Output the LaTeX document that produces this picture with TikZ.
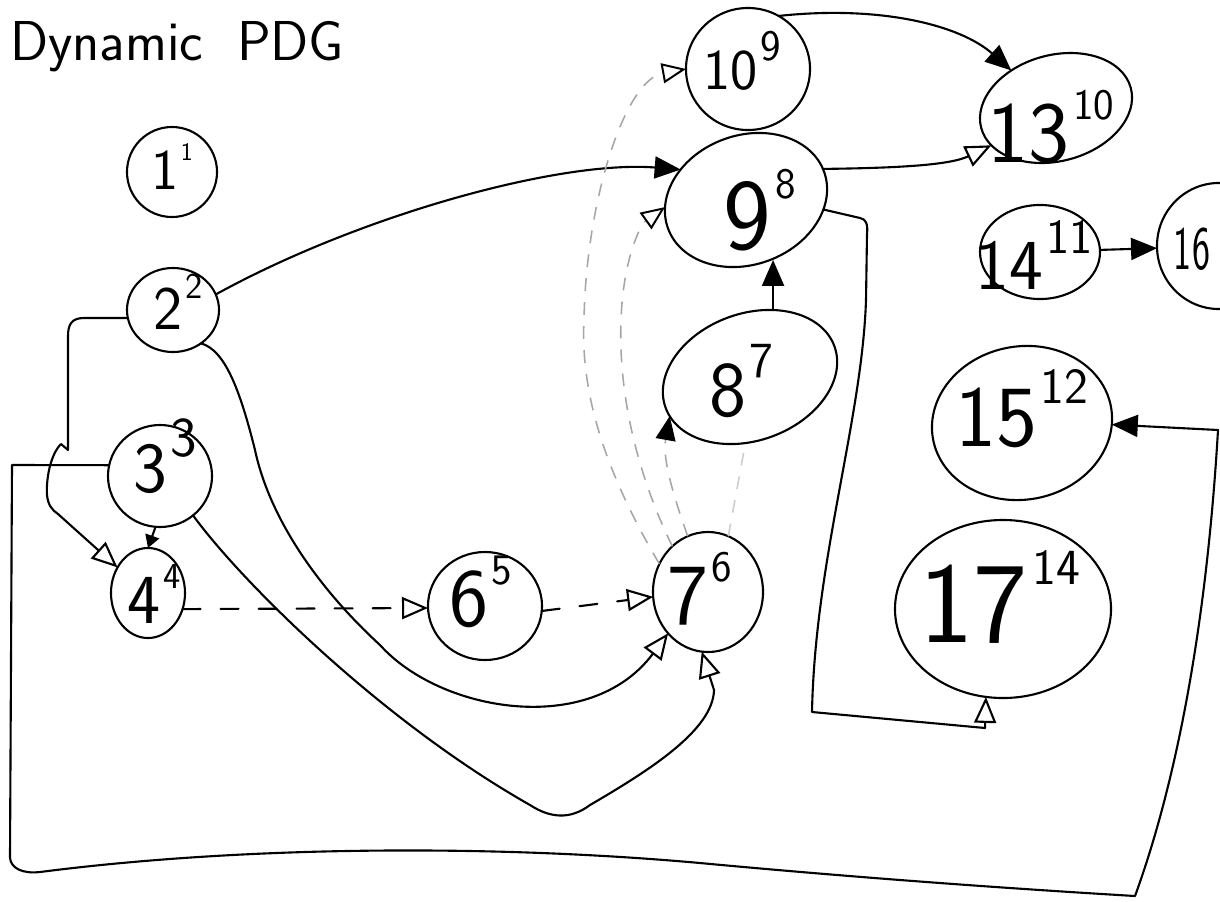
\documentclass[tikz,border=0pt]{standalone}
\usepackage{graphicx}
\usetikzlibrary{arrows.meta,shapes.geometric}
% size, main, supsize, sup, dx(px), dy(px)
\newcommand\nt[6]{\makebox[0pt]{\smash{\fontsize{#1pt}{#1pt}\selectfont\kern\dimexpr0.05cm*(#5)\relax\raisebox{\dimexpr-0.34em-0.025cm*(#6)\relax}{#2\kern0.04em\raisebox{0.5em}{\fontsize{#3pt}{#3pt}\selectfont #4}}}}}
\begin{document}
\begin{tikzpicture}[x=0.025cm, y=-0.025cm, font=\sffamily,
  nd/.style={draw, ellipse, line width=1.5pt, inner sep=0pt, outer sep=0pt},
  ln/.style={line width=1.5pt, line cap=round, line join=round},
  fa/.style={ln, -{Triangle[length=0.65cm, width=0.55cm]}},
  sfa/.style={ln, -{Triangle[length=0.32cm, width=0.36cm]}},
  oa/.style={ln, -{Triangle[open, length=0.65cm, width=0.55cm]}},
  bdash/.style={dash pattern=on 0.45cm off 0.5cm},
  gdash/.style={draw=gray!70, line width=1.1pt, dash pattern=on 0.32cm off 0.28cm},
  goa/.style={gdash, -{Triangle[open, color=black, line width=1.4pt, length=0.6cm, width=0.5cm]}},
  gfa/.style={gdash, -{Triangle[color=black, length=0.6cm, width=0.5cm]}},
]
\fill[white] (0,0) rectangle (1220,901);
\useasboundingbox (0,0) rectangle (1220,901);

% title
\node[anchor=base west, font=\sffamily\fontsize{40pt}{40pt}\selectfont, inner sep=0pt] (title) at (10,60) {Dynamic\hspace{0.6em}PDG};

% nodes
\node[nd, minimum width=2.25cm, minimum height=2.25cm] (n1) at (172,172) {\nt{41}{1}{18}{1}{0}{-2}};
\node[nd, minimum width=2.3cm, minimum height=2.1cm] (n2) at (173,310) {\nt{44}{2}{26}{2}{5}{-2}};
\node[nd, minimum width=2.6cm, minimum height=2.55cm] (n3) at (160,476) {\nt{51}{3}{40}{3}{5}{-8}};
\node[nd, minimum width=1.85cm, minimum height=2.25cm] (n4) at (148,593) {\nt{50}{4}{26}{4}{6}{7}};
\node[nd, minimum width=2.85cm, minimum height=2.7cm] (n6) at (485,606) {\nt{59}{6}{31}{5}{-4}{-8}};
\node[nd, minimum width=2.75cm, minimum height=3cm] (n7) at (708,592) {\nt{62}{7}{31}{6}{-8}{3}};
\node[nd, rotate=20, minimum width=4.49cm, minimum height=3.17cm] (n8) at (750,377) {\rotatebox{-20}{\nt{56}{8}{36}{7}{-9}{13}}};
\node[nd, rotate=20, minimum width=4.15cm, minimum height=3.23cm] (n9) at (746,200) {\rotatebox{-20}{\nt{72}{9}{31}{8}{14}{15}}};
\node[nd, minimum width=3.1cm, minimum height=3.05cm] (n10) at (748,69) {\nt{41}{10}{31}{9}{-6}{1}};
\node[nd, rotate=15, minimum width=3.87cm, minimum height=2.65cm] (n13) at (1056,108) {\rotatebox{-15}{\nt{62}{13}{31}{10}{-5}{25}}};
\node[nd, minimum width=3cm, minimum height=2.35cm] (n14) at (1040,252) {\nt{51}{14}{35}{11}{-6}{13}};
\node[nd, rotate=10, minimum width=4.52cm, minimum height=3.83cm] (n15) at (1022,423) {\rotatebox{-10}{\nt{62}{15}{36}{12}{0}{-6}}};
\node[nd, minimum width=3.1cm, minimum height=3.15cm] (n16) at (1219,246) {};
\node[font=\sffamily\fontsize{44pt}{44pt}\selectfont, inner sep=0pt] (t16) at (1192,249) {\scalebox{0.62}[1]{16}};
\node[nd, minimum width=5.4cm, minimum height=4.45cm] (n17) at (1003,609) {\nt{82}{17}{36}{14}{-3}{-6}};

% solid connectors
\draw[fa] (n2.20) .. controls (360,215) and (560,160) .. (n9.135);
\draw[oa] (n2.190) -- (84,318) .. controls (72,318) and (68,324) .. (68,336) -- (68,450) -- (61,444)
  .. controls (50,455) and (46,480) .. (47,495) .. controls (48,505) and (52,510) .. (58,514) -- (n4.140);
\draw[sfa] (n3.265) -- (n4.90);
\draw[fa] (n3.168) -- (12,465) -- (10,858) .. controls (11,868) and (22,874) .. (40,872)
  .. controls (250,845) and (500,845) .. (700,863) .. controls (850,877) and (1000,888) .. (1135,896)
  .. controls (1170,800) and (1205,650) .. (1218,430) -- (n15.-11);
\draw[oa] (n9.-27) -- (860,218) .. controls (866,219) and (868,224) .. (867,234) -- (866,300)
  .. controls (862,420) and (815,560) .. (812,712) -- (985,728) -- (n17.259);
\draw[fa] (n8.51) -- (n8.51 |- n9.-88);
\draw[fa] (n10.60) .. controls (880,5) and (960,25) .. (n13.125);
\draw[oa] (n9.2) .. controls (900,168) and (950,165) .. (n13.195);
\draw[fa] (n14.2) -- (n16.182);
\draw[oa] (n2.-50) .. controls (225,350) and (240,390) .. (255,450) .. controls (270,520) and (320,590) .. (380,645)
  .. controls (440,712) and (590,738) .. (n7.226);
\draw[oa] (n3.-50) .. controls (240,580) and (380,720) .. (530,805) .. controls (550,818) and (570,820) .. (590,805)
  .. controls (650,770) and (713,730) .. (714,690) -- (n7.-96);

% dashed connectors
\draw[oa, bdash] (n4.-25) -- (n6.182);
\draw[oa, bdash] (n6.-5) -- (n7.185);
\draw[goa] (n7.150) .. controls (610,480) and (580,400) .. (584,320) .. controls (586,200) and (625,80) .. (n10.180);
\draw[goa] (n7.128) .. controls (640,480) and (618,400) .. (621,320) .. controls (623,260) and (640,225) .. (n9.165);
\draw[gfa] (n7.110) .. controls (675,500) and (662,460) .. (n8.186);
\draw[gdash, draw=gray!40] (n7.70) -- (n8.246);
\end{tikzpicture}
\end{document}
